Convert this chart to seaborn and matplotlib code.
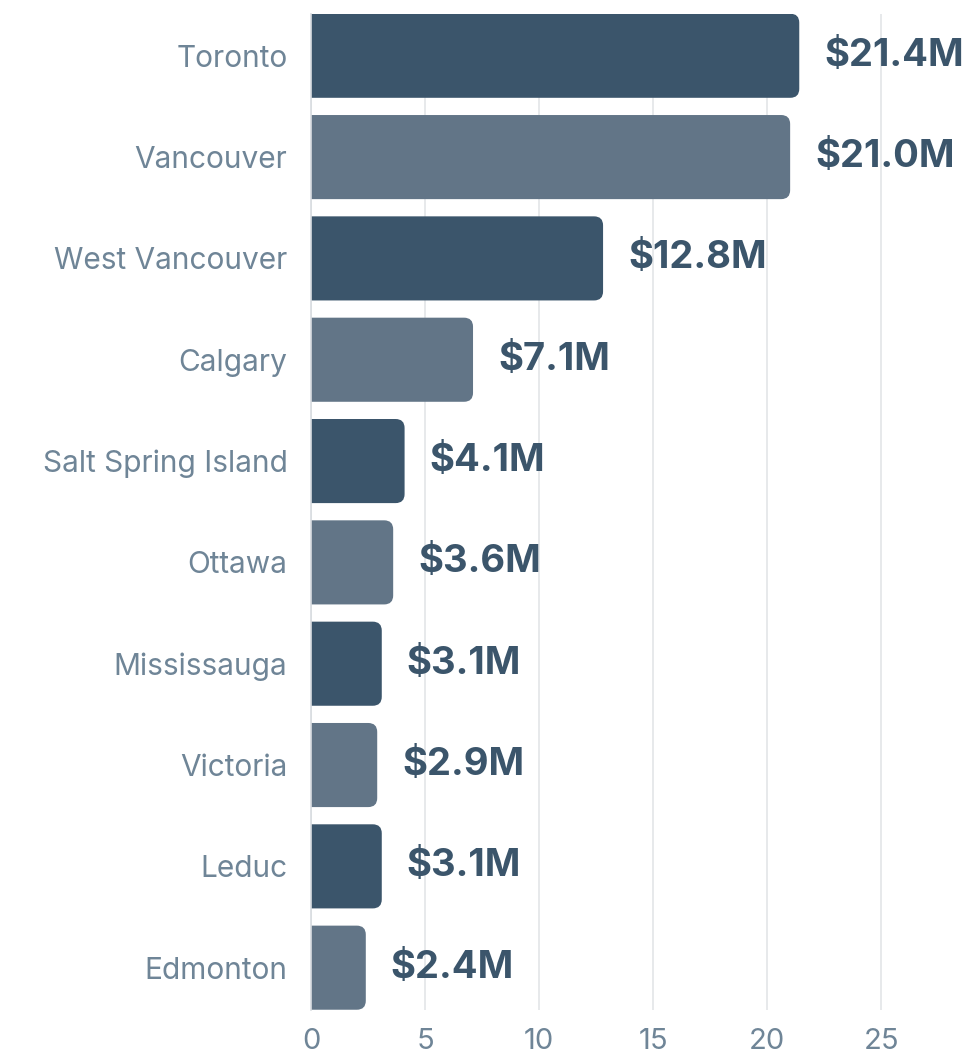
"""Top Canadian cities by value - horizontal bar chart."""

import pandas as pd
import matplotlib
matplotlib.use("Agg")
import matplotlib.pyplot as plt
from matplotlib.patches import FancyBboxPatch
import seaborn as sns

cities = ["Toronto", "Vancouver", "West Vancouver", "Calgary", "Salt Spring Island",
          "Ottawa", "Mississauga", "Victoria", "Leduc", "Edmonton"]
values = [21.4, 21.0, 12.8, 7.1, 4.1, 3.6, 3.1, 2.9, 3.1, 2.4]
value_labels = ["$21.4M", "$21.0M", "$12.8M", "$7.1M", "$4.1M",
                "$3.6M", "$3.1M", "$2.9M", "$3.1M", "$2.4M"]
x_ticks = [0, 5, 10, 15, 20, 25]

DARK = "#3b556b"
LIGHT = "#627587"
TICK_COLOR = "#6f8597"

df = pd.DataFrame({"city": cities, "value": values})
palette = {c: (DARK if i % 2 == 0 else LIGHT) for i, c in enumerate(cities)}

sns.set_theme(style="white")
plt.rcParams["font.family"] = ["Inter", "DejaVu Sans"]

fig = plt.figure(figsize=(9.69, 10.54), dpi=100)
ax = fig.add_axes([0.321, 0.042, 0.671, 0.945])

bar_h = 0.83
sns.barplot(data=df, x="value", y="city", hue="city", palette=palette,
            orient="h", width=bar_h, saturation=1, legend=False, ax=ax)

xmax = 28.5
ax.set_xlim(0, xmax)
ax.set_ylim(len(cities) - 1 + bar_h / 2, -bar_h / 2)

# replace bars with right-rounded versions
fig.canvas.draw()
bbox = ax.get_window_extent()
px_per_x = bbox.width / xmax
px_per_y = bbox.height / (len(cities) - 1 + bar_h)
radius_px = 9
for p in list(ax.patches):
    x0, y0 = p.get_x(), p.get_y()
    w, h = p.get_width(), p.get_height()
    color = p.get_facecolor()
    p.remove()
    r = radius_px / px_per_x
    fb = FancyBboxPatch((x0 - 1.0, y0), w + 1.0, h,
                        boxstyle=f"round,pad=0,rounding_size={r}",
                        mutation_aspect=px_per_x / px_per_y,
                        facecolor=color, edgecolor="none", zorder=2)
    ax.add_patch(fb)

offset = 25 / px_per_x
for i, (v, lab) in enumerate(zip(values, value_labels)):
    ax.text(v + offset, i, lab, va="center", ha="left", fontsize=27.5,
            fontweight="bold", color=DARK, zorder=1)

ax.set_xticks(x_ticks)
ax.xaxis.grid(True, color="#e3e5e8", linewidth=1.2, zorder=0)
ax.set_axisbelow(True)
ax.set_xlabel("")
ax.set_ylabel("")
ax.tick_params(axis="x", length=0, pad=13, labelsize=21, labelcolor=TICK_COLOR)
ax.tick_params(axis="y", length=0, pad=17, labelsize=21.5, labelcolor=TICK_COLOR)
for s in ["top", "right", "bottom"]:
    ax.spines[s].set_visible(False)
ax.spines["left"].set_color("#d8dce0")
ax.spines["left"].set_linewidth(1.2)

fig.savefig("out.png", dpi=100)
